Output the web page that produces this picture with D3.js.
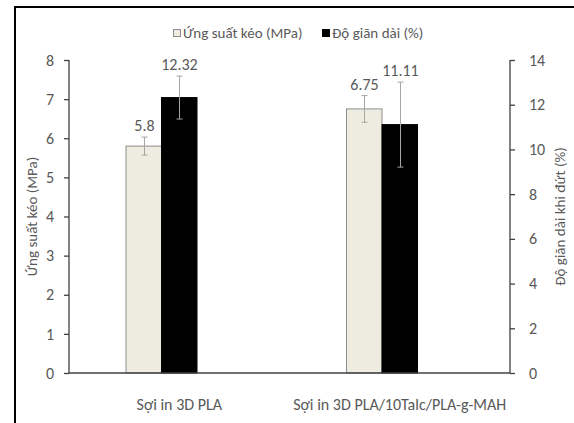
<!DOCTYPE html>
<html>
<head>
<meta charset="utf-8">
<script src="https://cdn.jsdelivr.net/npm/d3@7"></script>
<style>
  html, body { margin: 0; padding: 0; background: #fff; }
  svg { display: block; }
  text { font-family: Carlito, Lato, "Liberation Sans", sans-serif; fill: #595959; }
</style>
</head>
<body>
<svg id="chart" width="574" height="423"></svg>
<script>
// Categories and measured values (mean ± standard deviation)
const categories = ["Sợi in 3D PLA", "Sợi in 3D PLA/10Talc/PLA-g-MAH"];
const stressValues = [5.8, 6.75];          // Ứng suất kéo (MPa)
const stressErrors = [0.23, 0.34];
const elongValues = [12.32, 11.11];        // Độ giãn dài (%)
const elongErrors = [0.96, 1.9];
const seriesNames = ["Ứng suất kéo (MPa)", "Độ giãn dài (%)"];
const leftTicks = [0, 1, 2, 3, 4, 5, 6, 7, 8];
const rightTicks = [0, 2, 4, 6, 8, 10, 12, 14];

const svg = d3.select("#chart");
const plot = { left: 69, right: 510, top: 60, bottom: 373 };

// outer chart frame (extends past the visible area)
svg.append("rect")
  .attr("x", 15).attr("y", 7).attr("width", 700).attr("height", 600)
  .attr("fill", "#fff").attr("stroke", "#000").attr("stroke-width", 2);

const x0 = d3.scaleBand().domain(categories)
  .range([plot.left, plot.right]).paddingInner(0.517).paddingOuter(0.2585);
// three slots per category; the third one stays empty
const x1 = d3.scaleBand().domain([0, 1, 2]).range([0, x0.bandwidth()]);

const yL = d3.scaleLinear().domain([0, 8]).range([plot.bottom, plot.top]);
const yR = d3.scaleLinear().domain([0, 14]).range([plot.bottom, plot.top]);

const series = [
  { values: stressValues, errors: stressErrors, scale: yL, fill: "#eeece1", stroke: "#8c8c8c" },
  { values: elongValues, errors: elongErrors, scale: yR, fill: "#000000", stroke: "#000000" }
];

// bars
series.forEach((s, si) => {
  svg.append("g").selectAll("rect")
    .data(categories)
    .join("rect")
    .attr("x", c => x0(c) + x1(si))
    .attr("y", (c, i) => s.scale(s.values[i]))
    .attr("width", x1.bandwidth())
    .attr("height", (c, i) => s.scale(0) - s.scale(s.values[i]))
    .attr("fill", s.fill)
    .attr("stroke", s.stroke).attr("stroke-width", 1);
});

// error bars and value labels
series.forEach((s, si) => {
  const g = svg.append("g");
  categories.forEach((c, i) => {
    const cx = Math.round(x0(c) + x1(si) + x1.bandwidth() / 2) + 0.5;
    const top = s.scale(s.values[i] + s.errors[i]);
    const bot = s.scale(s.values[i] - s.errors[i]);
    g.append("line").attr("x1", cx).attr("x2", cx).attr("y1", top).attr("y2", bot)
      .attr("stroke", "#a6a6a6").attr("stroke-width", 1);
    [top, bot].forEach(yy => {
      g.append("line").attr("x1", cx - 3).attr("x2", cx + 3).attr("y1", yy).attr("y2", yy)
        .attr("stroke", "#a6a6a6").attr("stroke-width", 1);
    });
    g.append("text").attr("x", cx).attr("y", top - 6)
      .attr("text-anchor", "middle").attr("font-size", 16)
      .text(s.values[i]);
  });
});

// value axes
const axL = svg.append("g").attr("transform", `translate(${plot.left},0)`)
  .call(d3.axisLeft(yL).tickValues(leftTicks).tickSize(5).tickPadding(10));
const axR = svg.append("g").attr("transform", `translate(${plot.right},0)`)
  .call(d3.axisRight(yR).tickValues(rightTicks).tickSize(5).tickPadding(14));
[axL, axR].forEach(ax => {
  ax.select(".domain").remove();
  ax.selectAll(".tick line").attr("stroke", "#404040").attr("stroke-width", 1.3);
  ax.selectAll(".tick text").attr("font-size", 16).attr("fill", "#595959");
  ax.attr("font-family", null).attr("font-size", null);
});
[plot.left, plot.right].forEach(xx => {
  svg.append("line").attr("x1", xx).attr("x2", xx)
    .attr("y1", plot.top).attr("y2", plot.bottom)
    .attr("stroke", "#404040").attr("stroke-width", 1.3);
});

// category axis (baseline + labels)
svg.append("line").attr("x1", plot.left).attr("x2", plot.right)
  .attr("y1", plot.bottom).attr("y2", plot.bottom)
  .attr("stroke", "#404040").attr("stroke-width", 1.5);
svg.append("g").selectAll("text")
  .data(categories).join("text")
  .attr("x", c => x0(c) + x0.bandwidth() / 2)
  .attr("y", 410)
  .attr("text-anchor", "middle").attr("font-size", 16)
  .text(c => c);

// axis titles
svg.append("text")
  .attr("transform", `translate(37,${(plot.top + plot.bottom) / 2}) rotate(-90)`)
  .attr("text-anchor", "middle").attr("font-size", 15)
  .text("Ứng suất kéo (MPa)");
svg.append("text")
  .attr("transform", `translate(565,${(plot.top + plot.bottom) / 2}) rotate(-90)`)
  .attr("text-anchor", "middle").attr("font-size", 15)
  .text("Độ giãn dài khi đứt (%)");

// legend
const legend = svg.append("g");
const legendItems = [
  { name: seriesNames[0], x: 173, fill: "#eeece1", stroke: "#8c8c8c" },
  { name: seriesNames[1], x: 322, fill: "#000", stroke: "#000" }
];
legendItems.forEach(d => {
  legend.append("rect").attr("x", d.x + 0.5).attr("y", 29.5).attr("width", 7).attr("height", 7)
    .attr("fill", d.fill).attr("stroke", d.stroke);
  legend.append("text").attr("x", d.x + 10).attr("y", 38).attr("font-size", 15).text(d.name);
});
</script>
</body>
</html>
